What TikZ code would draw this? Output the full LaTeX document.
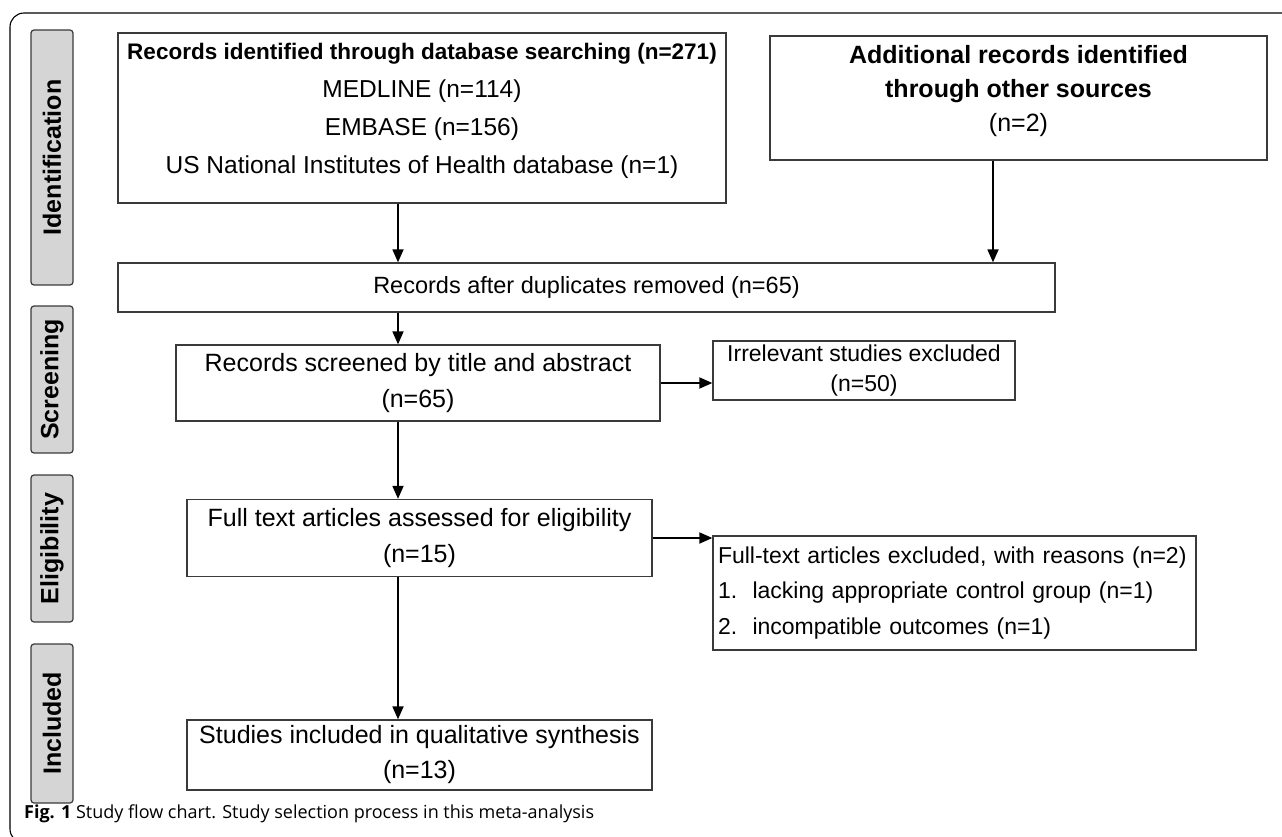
\documentclass[tikz,border=0pt]{standalone}
\usepackage{fontspec}
\setmainfont{Liberation Sans}
\newfontfamily\capfont{Open Sans}
\usetikzlibrary{arrows.meta}
\definecolor{boxline}{HTML}{3A3A3A}
\definecolor{phasefill}{HTML}{D5D5D5}
\tikzset{
  flowbox/.style={
    draw=boxline,
    line width=1.3pt,
    fill=white,
    inner sep=0pt,
    align=center,
    font=\fontsize{25}{37}\selectfont
  },
  phase/.style={
    draw=boxline,
    line width=1.2pt,
    fill=phasefill,
    rounded corners=3pt,
    inner sep=0pt,
    rotate=90,
    font=\bfseries\fontsize{25}{27}\selectfont
  },
  flowarrow/.style={
    draw,
    line width=1.8pt,
    -{Triangle[length=13pt,width=11pt]}
  }
}

\begin{document}
\begin{tikzpicture}[x=1pt,y=-1pt]
  \useasboundingbox (0,0) rectangle (1282,837);
  \draw[line width=1.1pt,rounded corners=14pt] (1290,13) -- (10,13) -- (10,843) -- (1290,843);

  \node[phase,minimum width=255pt,minimum height=42pt] (ident) at (52,157.5) {Identification};
  \node[phase,minimum width=147pt,minimum height=42pt] (screen) at (52,379.5) {Screening};
  \node[phase,minimum width=147pt,minimum height=42pt] (elig) at (52,548.5) {Eligibility};
  \node[phase,minimum width=159pt,minimum height=42pt] (incl) at (52,723.5) {Included};

  \node[flowbox,minimum width=608pt,minimum height=170pt,text depth=20pt,font=\fontsize{24.5}{38}\selectfont] (db) at (422,118)
    {{\bfseries\fontsize{22.5}{38}\selectfont Records identified through database searching (n=271)}\\
     MEDLINE (n=114)\\
     EMBASE (n=156)\\
     US National Institutes of Health database (n=1)};
  \node[flowbox,minimum width=497pt,minimum height=124pt,text depth=20pt] (other) at (1018.5,98)
    {{\bfseries\fontsize{25}{37}\selectfont Additional records identified}\\[-3pt]
     {\bfseries\fontsize{25}{37}\selectfont through other sources}\\[-3pt]
     (n=2)};
  \node[flowbox,minimum width=937pt,minimum height=49pt,font=\fontsize{23.5}{37}\selectfont] (dedup) at (586.5,287.5)
    {Records after duplicates removed (n=65)};
  \node[flowbox,minimum width=484pt,minimum height=76pt] (screened) at (418,383)
    {Records screened by title and abstract\\[-1pt] (n=65)};
  \node[flowbox,minimum width=302pt,minimum height=59pt,font=\fontsize{23}{30}\selectfont] (irrel) at (864,370.5)
    {Irrelevant studies excluded\\ (n=50)};
  \node[flowbox,minimum width=465pt,minimum height=77pt] (fulltext) at (419.5,538)
    {Full text articles assessed for eligibility\\[-1pt] (n=15)};
  \node[flowbox,align=left,text width=473pt,inner xsep=5pt,minimum height=114pt,font=\fontsize{23}{35.5}\selectfont] (excl) at (954.5,593)
    {Full-text articles excluded, with reasons (n=2)\\
     1.\ \ lacking appropriate control group (n=1)\\
     2.\ \ incompatible outcomes (n=1)};
  \node[flowbox,minimum width=465pt,minimum height=70pt] (incd) at (419.5,755)
    {Studies included in qualitative synthesis\\[-2pt] (n=13)};

  \coordinate (spine) at (398,0);
  \coordinate (side) at (993,0);
  \draw[flowarrow] (spine |- db.south) -- (spine |- dedup.north);
  \draw[flowarrow] (side |- other.south) -- (side |- dedup.north);
  \draw[flowarrow] (spine |- dedup.south) -- (spine |- screened.north);
  \draw[flowarrow] (spine |- screened.south) -- (spine |- fulltext.north);
  \draw[flowarrow] (spine |- fulltext.south) -- (spine |- incd.north);
  \draw[flowarrow] (screened.east) -- (screened.east -| irrel.west);
  \draw[flowarrow] (fulltext.east) -- (fulltext.east -| excl.west);

  \node[anchor=base west,inner sep=0pt,font=\capfont\fontsize{18}{20}\selectfont] (caption) at (24,818)
    {\textbf{Fig. 1} Study flow chart. Study selection process in this meta-analysis};
\end{tikzpicture}
\end{document}
